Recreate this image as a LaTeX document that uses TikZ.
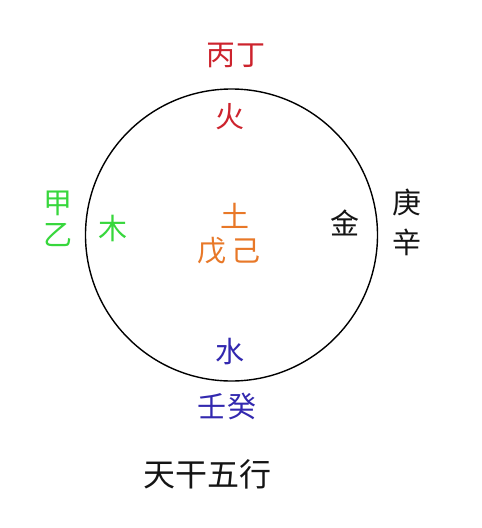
\documentclass[tikz,border=0pt]{standalone}
\usepackage{fontspec}
\setmainfont{Noto Sans CJK SC}
\usepackage{xcolor}
\usetikzlibrary{positioning,calc}

\definecolor{firered}{RGB}{205,35,45}
\definecolor{woodgreen}{RGB}{55,215,60}
\definecolor{earthorange}{RGB}{232,120,40}
\definecolor{waterblue}{RGB}{50,40,175}
\definecolor{metalblack}{RGB}{20,20,20}

\begin{document}
\begin{tikzpicture}[x=1pt,y=-1pt,
		glyph/.style={inner sep=0pt, font=\fontsize{29}{31}\selectfont}]
			\useasboundingbox[fill=white] (0,0) rectangle (482,528);
			\coordinate (center) at (231.5,235);
			\def\radius{146pt}

			% the circle
			\draw[line width=1.4pt, black] (center) circle (\radius);

			% elements inside the circle
			\node[glyph, text=firered] (fire) at (230,117) {火};
			\node[glyph, text=woodgreen] (wood) at (113,228) {木};
			\node[glyph, text=earthorange] (earth) at (235,216) {土};
			\node[glyph, text=metalblack] (metal) at (345,223) {金};
			\node[glyph, text=waterblue] (water) at (230,352) {水};

			% stems around the circle
			\node[glyph, text=firered] (bingding) at (236,55) {丙\hspace{2pt}丁};
			\node[glyph, text=woodgreen] (jia) at (58,203) {甲};
			\node[glyph, text=woodgreen, below=8pt of jia] (yi) {乙};
			\node[glyph, text=earthorange] (wuji) at (229,251) {戊\hspace{5pt}己};
			\node[glyph, text=metalblack] (geng) at (407,202) {庚};
			\node[glyph, text=metalblack, below=13pt of geng] (xin) {辛};
			\node[glyph, text=waterblue] (rengui) at (227,406) {壬\hspace{2pt}癸};

			% caption
			\node[glyph, text=metalblack, font=\fontsize{32}{34}\selectfont] (title) at (207,474) {天干五行};

		\end{tikzpicture}
\end{document}
